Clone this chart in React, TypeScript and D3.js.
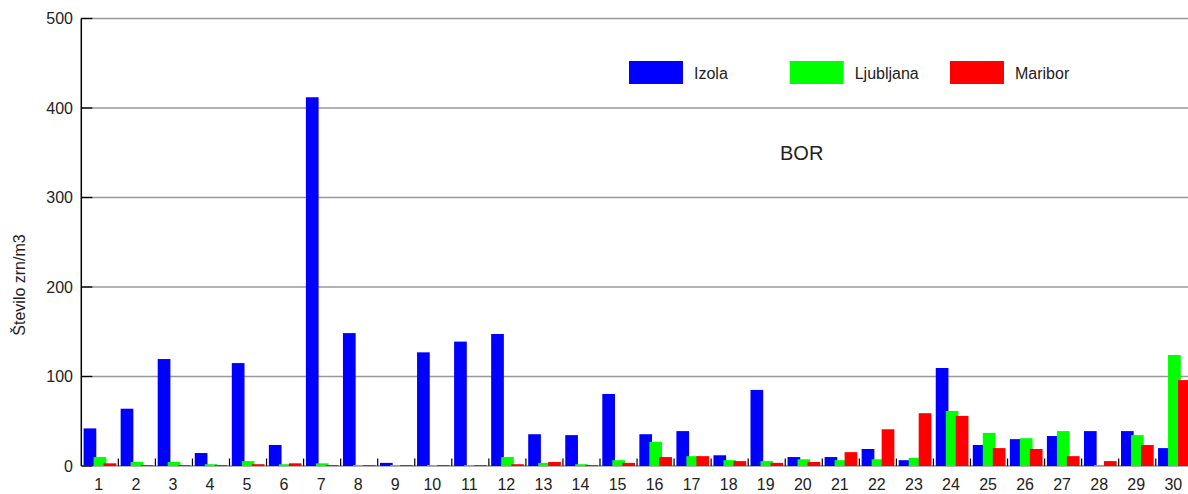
import React from "react";
import * as d3 from "d3";

const days: string[] = Array.from({ length: 30 }, (_, i) => String(i + 1));
const seriesNames = ["Izola", "Ljubljana", "Maribor"];
const seriesColors = ["#0000ff", "#00ff00", "#ff0000"];
const izola = [42, 64, 119.5, 14.5, 115, 23.5, 412, 148.5, 3.5, 127, 139, 147.5, 35.5, 34.5, 80.5, 35.5, 39, 12, 85, 10, 10, 19, 6.5, 109.5, 23.5, 30, 33.5, 39, 39, 20];
const ljubljana = [10, 4.5, 4.5, 2, 5.5, 2, 3, 1, 1, 1, 1, 10, 3.5, 2, 6.5, 27, 11, 6.5, 5.5, 7.5, 6.5, 7.5, 9, 61.5, 37, 31, 39, 1, 34.5, 124];
const maribor = [3, 1, 1, 1, 2, 3, 1, 1, 1, 1, 1, 2, 4.5, 1, 3.5, 10, 11, 5.5, 3.5, 4.5, 15.5, 41, 59, 56, 20, 19, 11, 5.5, 23.5, 96];
const yTicks = [0, 100, 200, 300, 400, 500];

const W = 1188;
const H = 494;
const FONT = "'Liberation Sans', Arial, Helvetica, sans-serif";

export default function App() {
  const x = d3.scaleBand<string>().domain(days).range([81.3, 81.3 + 30 * 37.05]).padding(0);
  const y = d3.scaleLinear().domain([0, 500]).range([466, 18.5]);
  const sub = d3.scalePoint<string>().domain(seriesNames).range([2.3, 22.3]);
  const barW = 12.7;
  const data = [izola, ljubljana, maribor];
  const left = 81.3;

  return (
    <svg width={W} height={H} style={{ position: "absolute", left: 0, top: 0, background: "#fff" }} fontFamily={FONT}>
      {/* gridlines */}
      {yTicks.map((t) => (
        <g key={t}>
          <line x1={left} x2={W} y1={y(t)} y2={y(t)} stroke="#999" strokeWidth={1.3} />
          <line x1={left} x2={left + 11} y1={y(t)} y2={y(t)} stroke="#000" strokeWidth={1.3} />
          <text x={73} y={y(t)} dy="0.36em" textAnchor="end" fontSize={16} fill="#222">{t}</text>
        </g>
      ))}
      {/* bars */}
      {seriesNames.map((s, si) => (
        <g key={s} fill={seriesColors[si]}>
          {days.map((d, i) => (
            <rect key={d} x={(x(d) as number) + (sub(s) as number)} y={y(data[si][i])} width={barW} height={y(0) - y(data[si][i])} />
          ))}
        </g>
      ))}
      {/* x ticks */}
      {days.slice(1).map((d) => (
        <line key={d} x1={x(d) as number} x2={x(d) as number} y1={y(0)} y2={y(0) - 7.5} stroke="#000" strokeWidth={1.2} />
      ))}
      {/* y axis */}
      <line x1={left} x2={left} y1={y(500)} y2={y(0)} stroke="#000" strokeWidth={1.5} />
      {/* x labels */}
      {days.map((d) => (
        <text key={d} x={(x(d) as number) + x.bandwidth() / 2 - 1} y={490} textAnchor="middle" fontSize={16} fill="#222">{d}</text>
      ))}
      {/* y label */}
      <text transform="translate(24.5,285) rotate(-90)" textAnchor="middle" fontSize={16} fill="#222">Število zrn/m3</text>
      {/* legend */}
      {seriesNames.map((s, si) => {
        const lx = [629, 789.7, 950][si];
        return (
          <g key={s}>
            <rect x={lx} y={61} width={54} height={23} fill={seriesColors[si]} />
            <text x={lx + 65} y={79} fontSize={16} fill="#222">{s}</text>
          </g>
        );
      })}
      {/* title */}
      <text x={780} y={160} fontSize={20} fill="#222">BOR</text>
    </svg>
  );
}
